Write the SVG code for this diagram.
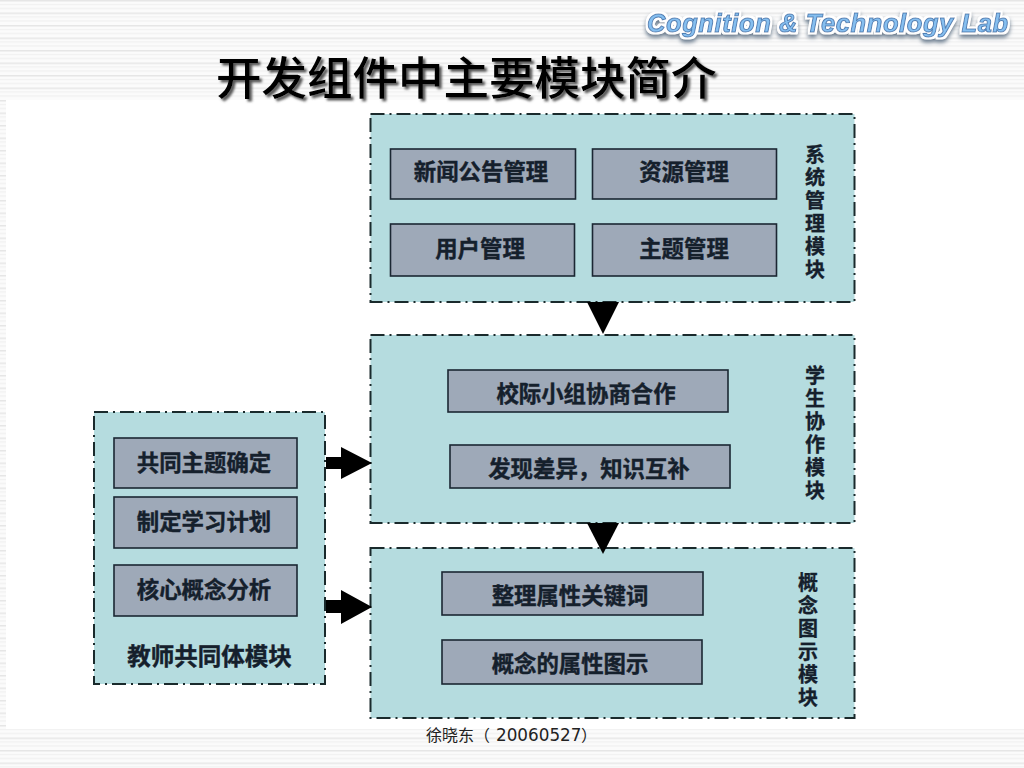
<svg xmlns="http://www.w3.org/2000/svg" width="1024" height="768" viewBox="0 0 1024 768">
<style>
text{font-family:"Noto Sans CJK SC","Noto Sans",sans-serif}
.panel{fill:#b5dcdf;stroke:#1a2a2c;stroke-width:2;stroke-dasharray:14 5 2 5}
.box{fill:#9ea9b8;stroke:#1b2733;stroke-width:1.6}
.lbl{font-size:22.400px;font-weight:700;fill:#15202c;stroke:#15202c;stroke-width:.4;text-anchor:middle}
.side{font-size:20px;font-weight:700;fill:#15202c;stroke:#15202c;stroke-width:.3;writing-mode:vertical-rl;text-orientation:upright;letter-spacing:3px}
.title{font-size:45.500px;font-weight:500;fill:#000;filter:url(#shadow)}
.logo{font-family:"Liberation Sans",sans-serif;font-size:25.500px;font-weight:700;font-style:italic;fill:#86bff0;stroke:#4f80b5;stroke-width:1;filter:url(#glow)}
.conn{fill:#000;stroke:none}
</style>
<defs>
<pattern id="st" width="8" height="12.500" patternUnits="userSpaceOnUse">
<rect width="8" height="12.500" fill="#fbfbfb"/>
<rect y="0" width="8" height="1.500" fill="#e6e6e6"/>
<rect y="4" width="8" height="1" fill="#f0f0f0"/>
<rect y="8" width="8" height="1" fill="#eeeeee"/>
</pattern>
<filter id="shadow" x="-5%" y="-20%" width="110%" height="140%"><feDropShadow dx="2.500" dy="2.500" stdDeviation="1.200" flood-color="#555"/></filter>
<filter id="glow" x="-5%" y="-40%" width="110%" height="190%">
<feMorphology in="SourceAlpha" operator="dilate" radius="2" result="d"/>
<feFlood flood-color="#ffffff"/><feComposite in2="d" operator="in" result="w"/>
<feGaussianBlur in="d" stdDeviation="2"/><feOffset dy="3" result="b"/>
<feFlood flood-color="#65778a"/><feComposite in2="b" operator="in" result="s"/>
<feMerge><feMergeNode in="s"/><feMergeNode in="w"/><feMergeNode in="SourceGraphic"/></feMerge>
</filter>
</defs>
<rect width="1024" height="768" fill="#fff"/>
<g id="background">
<rect x="0" y="0" width="1024" height="100" fill="url(#st)"/>
<rect x="0" y="100" width="6" height="630" fill="url(#st)"/>
<rect x="0" y="729" width="1024" height="39" fill="url(#st)"/>
</g>
<text id="logo" class="logo" x="647" y="32" letter-spacing=".6">Cognition &amp; Technology Lab</text>
<text id="title" class="title" x="216" y="95">开发组件中主要模块简介</text>
<g id="sys-module">
<rect class="panel" x="370.500" y="114" width="484" height="188"/>
<rect class="box" x="390.500" y="149" width="185" height="50"/><text class="lbl" x="481" y="180">新闻公告管理</text>
<rect class="box" x="592.500" y="149" width="184" height="50"/><text class="lbl" x="684" y="180">资源管理</text>
<rect class="box" x="390.500" y="224" width="184" height="52"/><text class="lbl" x="480" y="257">用户管理</text>
<rect class="box" x="592.500" y="224" width="184" height="52"/><text class="lbl" x="684" y="257">主题管理</text>
<text class="side" x="815" y="144">系统管理模块</text>
</g>
<g id="student-module">
<rect class="panel" x="370.500" y="335" width="484" height="188"/>
<rect class="box" x="448" y="370" width="280" height="42"/><text class="lbl" x="586" y="402">校际小组协商合作</text>
<rect class="box" x="450" y="445" width="280" height="43"/><text class="lbl" x="589" y="477">发现差异，知识互补</text>
<text class="side" x="815" y="365">学生协作模块</text>
</g>
<g id="concept-module">
<rect class="panel" x="370.500" y="548" width="484" height="170"/>
<rect class="box" x="442" y="572" width="261" height="43"/><text class="lbl" x="570" y="604">整理属性关键词</text>
<rect class="box" x="442" y="640" width="260" height="44"/><text class="lbl" x="570" y="672">概念的属性图示</text>
<text class="side" x="808" y="572">概念图示模块</text>
</g>
<g id="teacher-module">
<rect class="panel" x="94" y="412" width="231" height="272"/>
<rect class="box" x="114" y="438" width="183" height="50"/><text class="lbl" x="204" y="471">共同主题确定</text>
<rect class="box" x="114" y="497" width="183" height="51"/><text class="lbl" x="204" y="530">制定学习计划</text>
<rect class="box" x="114" y="565" width="183" height="51"/><text class="lbl" x="204" y="598">核心概念分析</text>
<text class="lbl" x="209.500" y="665" style="font-size:23.500px">教师共同体模块</text>
</g>
<g id="connectors">
<polygon class="conn" points="587,302 619,302 603,334"/>
<polygon class="conn" points="587,523 619,523 603,554"/>
<polygon class="conn" points="326,457 341,457 341,447 372,463 341,479 341,469 326,469"/>
<polygon class="conn" points="326,600 341,600 341,590 372,607 341,624 341,613 326,613"/>
</g>
<text id="footer" x="426" y="741" font-size="16" fill="#222">徐晓东（<tspan x="496" font-family="'DejaVu Sans',sans-serif" font-size="16.800">20060527</tspan><tspan x="581">）</tspan></text>
</svg>
